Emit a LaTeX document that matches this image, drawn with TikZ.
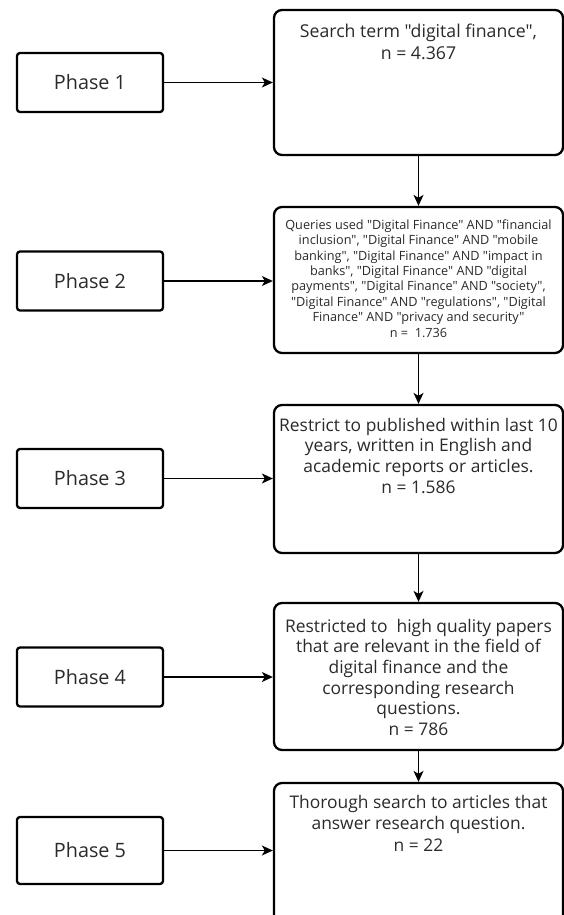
\documentclass[tikz,border=0pt]{standalone}
\usepackage{fontspec}
\setmainfont{Open Sans}[Ligatures=TeXOff]
\usetikzlibrary{arrows.meta}
\definecolor{txt}{HTML}{2A2A2A}
\lineskiplimit=-20pt
\begin{document}
\begin{tikzpicture}[x=1pt,y=-1pt,
  phasebox/.style={draw=black, line width=2.3pt, rounded corners=3pt, minimum width=146pt, minimum height=59pt, inner sep=0pt, font=\fontsize{19.8}{23}\selectfont, text=txt},
  bigbox/.style={draw=black, line width=2.3pt, rounded corners=8pt, minimum width=289pt, inner sep=0pt},
  boxtext/.style={anchor=north, inner sep=0pt, align=center, text=txt},
  conn/.style={line width=1.4pt, -{Stealth[length=11pt,width=10pt,inset=3pt]}}]
\clip (0,0) rectangle (564,915);
\useasboundingbox (0,0) rectangle (564,915);

% phase boxes
\node[phasebox] (p1) at (90,82.5) {Phase 1};
\node[phasebox] (p2) at (90,281) {Phase 2};
\node[phasebox] (p3) at (90,478.5) {Phase 3};
\node[phasebox] (p4) at (90,677) {Phase 4};
\node[phasebox, minimum height=67pt] (p5) at (90,850.5) {Phase 5};

% big boxes
\node[bigbox, minimum height=145pt] (b1) at (418.5,82.5) {};
\node[bigbox, minimum height=146pt] (b2) at (418.5,280) {};
\node[bigbox, minimum height=148pt] (b3) at (418.5,479) {};
\node[bigbox, minimum height=147pt] (b4) at (418.5,676.5) {};
\node[bigbox, minimum height=150pt] (b5) at (418.5,858) {};

% texts
\node[boxtext, font=\fontsize{17.7}{22}\selectfont] (t1) at ([yshift=-14.7pt]b1.north)
  {Search term "digital finance",\\ n = 4.367};
\node[boxtext, font=\fontsize{12.7}{15.4}\selectfont] (t2) at ([yshift=-13.5pt]b2.north)
  {Queries used "Digital Finance" AND "financial\\
   inclusion", "Digital Finance" AND "mobile\\
   banking", "Digital Finance" AND "impact in\\
   banks", "Digital Finance" AND "digital\\
   payments", "Digital Finance" AND "society",\\
   "Digital Finance" AND "regulations", "Digital\\
   Finance" AND "privacy and security"\\
   n =~~1.736};
\node[boxtext, font=\fontsize{17.4}{20.7}\selectfont] (t3) at ([yshift=-13.9pt]b3.north)
  {Restrict to published within last 10\\
   years, written in English and\\
   academic reports or articles.\\
   n = 1.586};
\node[boxtext, font=\fontsize{17.4}{20.7}\selectfont] (t4) at ([yshift=-16.9pt]b4.north)
  {Restricted to~~high quality papers\\
   that are relevant in the field of\\
   digital finance and the\\
   corresponding research\\
   questions.\\
   n = 786};
\node[boxtext, font=\fontsize{17.4}{21.5}\selectfont] (t5) at ([yshift=-12.9pt]b5.north)
  {Thorough search to articles that\\
   answer research question.\\
   n = 22};

% connectors
\foreach \i in {1,...,5}{
  \draw[conn] (p\i.east) -- (p\i.east -| b\i.west);
}
\draw[conn] (b1.south) -- (b2.north);
\draw[conn] (b2.south) -- (b3.north);
\draw[conn] (b3.south) -- (b4.north);
\draw[conn] (b4.south) -- (b5.north);
\end{tikzpicture}
\end{document}
